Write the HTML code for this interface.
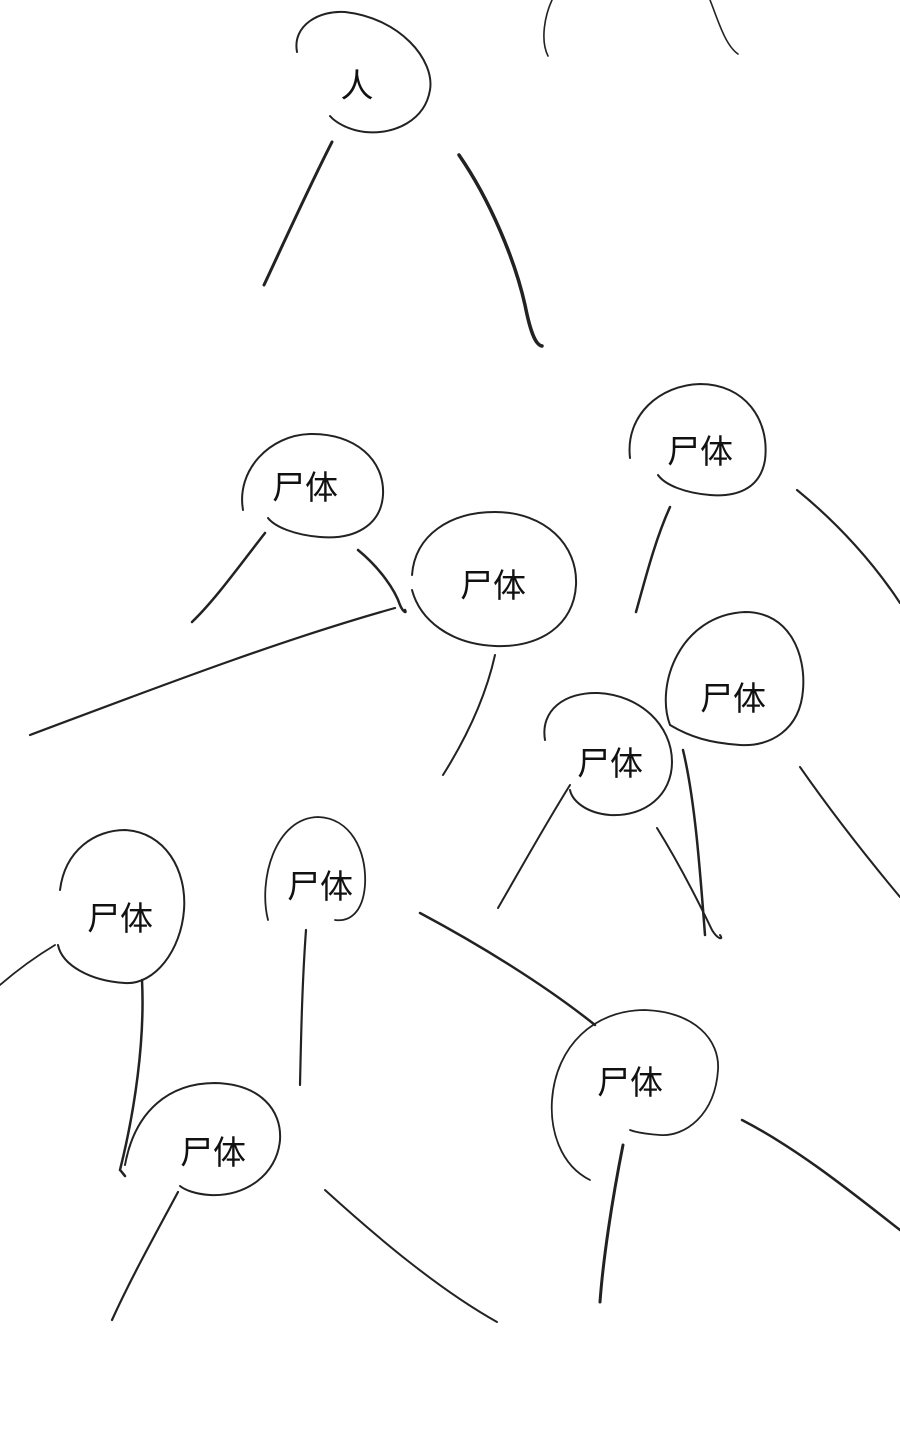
<!DOCTYPE html>
<html><head><meta charset="utf-8"><style>
html,body{margin:0;padding:0;background:#fff;}
svg{display:block;}
text{font-family:"Liberation Sans","Noto Sans CJK SC",sans-serif;font-size:33px;fill:#111;text-anchor:middle;}
path{fill:none;stroke:#222;stroke-linecap:round;}
</style></head><body>
<svg width="900" height="1442" viewBox="0 0 900 1442" xmlns="http://www.w3.org/2000/svg">
<!-- top person -->
<path stroke-width="2" d="M297,52 C292,25 320,10 345,12 C400,18 435,60 430,90 C425,120 395,135 365,132 C348,130 335,122 330,116"/>
<text x="357" y="97">人</text>
<path stroke-width="1.6" d="M548,56 C540,40 545,15 552,0"/>
<path stroke-width="1.6" d="M710,0 C718,20 725,45 738,54"/>
<path stroke-width="3" d="M332,142 C310,185 285,240 264,285"/>
<path stroke-width="3.5" d="M459,155 C490,200 515,260 525,305 C530,330 535,345 542,346"/>

<!-- corpse 1 -->
<path stroke-width="2" d="M243,510 C236,470 270,435 310,434 C355,433 385,460 383,495 C381,525 355,540 320,537 C295,535 275,527 268,518"/>
<text x="305" y="499">尸体</text>
<path stroke-width="2.5" d="M265,533 C240,565 215,600 192,622"/>
<path stroke-width="2.5" d="M358,550 C380,568 395,590 400,605 C403,612 407,614 405,610"/>
<path stroke-width="2.2" d="M30,735 C150,690 280,640 395,608"/>

<!-- corpse 2 -->
<path stroke-width="2" d="M412,575 C415,535 450,512 495,512 C545,512 578,545 576,585 C574,625 540,648 495,646 C450,644 420,620 412,590"/>
<text x="493" y="597">尸体</text>
<path stroke-width="2" d="M495,655 C485,700 465,740 443,775"/>

<!-- corpse 3 -->
<path stroke-width="2" d="M630,458 C625,415 660,385 700,384 C745,384 770,420 765,460 C760,490 735,497 710,495 C685,493 665,485 658,475"/>
<text x="700" y="463">尸体</text>
<path stroke-width="2.5" d="M670,507 C655,540 645,580 636,612"/>
<path stroke-width="2.2" d="M797,490 C840,525 875,565 900,603"/>

<!-- corpse 4 -->
<path stroke-width="2" d="M670,725 C655,685 680,615 745,612 C790,612 806,655 803,690 C800,730 770,747 740,745 C710,743 690,737 670,725"/>
<text x="733" y="710">尸体</text>
<path stroke-width="2" d="M800,767 C830,810 865,855 900,897"/>

<!-- corpse 5 -->
<path stroke-width="2" d="M545,740 C540,710 565,692 598,693 C640,695 672,725 672,762 C672,795 645,817 610,815 C585,813 572,800 570,790"/>
<text x="610" y="775">尸体</text>
<path stroke-width="2" d="M570,785 C545,825 520,870 498,908"/>
<path stroke-width="2" d="M657,828 C680,865 700,905 712,930 C718,940 724,940 720,935"/>
<path stroke-width="2.5" d="M683,750 C695,800 700,870 705,935"/>

<!-- corpse 6 -->
<path stroke-width="2" d="M60,890 C65,850 95,830 125,830 C165,832 187,870 184,910 C181,950 155,985 125,983 C90,981 62,965 58,945"/>
<text x="120" y="930">尸体</text>
<path stroke-width="1.8" d="M55,945 C35,957 15,972 0,985"/>
<path stroke-width="2.5" d="M142,980 C145,1040 135,1110 120,1170 C122,1172 124,1175 125,1176"/>

<!-- corpse 7 -->
<path stroke-width="1.8" d="M268,920 C258,880 275,818 318,817 C350,818 367,850 365,885 C363,912 350,922 335,920"/>
<text x="320" y="898">尸体</text>
<path stroke-width="2.2" d="M306,930 C302,985 301,1040 300,1085"/>
<path stroke-width="2.5" d="M420,913 C480,945 545,985 595,1025"/>

<!-- corpse 8 -->
<path stroke-width="1.8" d="M590,1180 C560,1165 550,1130 552,1100 C556,1045 595,1010 645,1010 C695,1012 720,1040 718,1070 C715,1115 685,1137 660,1135 C645,1134 635,1132 630,1130"/>
<text x="630" y="1094">尸体</text>
<path stroke-width="3" d="M623,1145 C612,1200 603,1260 600,1302"/>
<path stroke-width="2.5" d="M742,1120 C800,1150 855,1195 900,1230"/>

<!-- corpse 9 -->
<path stroke-width="2" d="M125,1165 C135,1110 170,1083 215,1083 C260,1084 282,1110 280,1140 C277,1175 245,1197 210,1195 C195,1194 185,1190 180,1186"/>
<text x="213" y="1164">尸体</text>
<path stroke-width="2.2" d="M178,1192 C155,1235 130,1280 112,1320"/>
<path stroke-width="2" d="M325,1190 C380,1240 440,1290 497,1322"/>
</svg>
</body></html>
